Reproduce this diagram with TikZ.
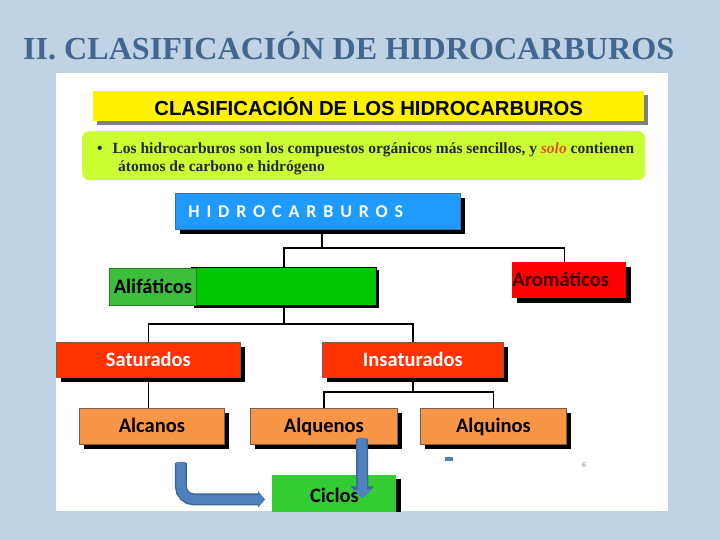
\documentclass[tikz,border=0pt]{standalone}
\usepackage{fontspec}
\setmainfont{Liberation Serif}
\newfontfamily\arialfont{Liberation Sans}
\newfontfamily\calfont{Carlito}
\usetikzlibrary{arrows.meta,shadows}

\definecolor{bgblue}{HTML}{BFD3E4}
\definecolor{titleblue}{HTML}{41668F}
\definecolor{limegreen}{HTML}{CCFF33}
\definecolor{hidroblue}{HTML}{1F9BFF}
\definecolor{hidroedge}{HTML}{3B6E9B}
\definecolor{alifbright}{HTML}{00C800}
\definecolor{aliflight}{HTML}{3DBE3D}
\definecolor{alifdark}{HTML}{2A7A2A}
\definecolor{aromred}{HTML}{FF0000}
\definecolor{aromtext}{HTML}{3A0000}
\definecolor{satred}{HTML}{FF3300}
\definecolor{boxedge}{HTML}{7B5B4B}
\definecolor{orangebox}{HTML}{F79646}
\definecolor{ciclosgreen}{HTML}{33CC33}
\definecolor{arrowblue}{HTML}{4F81BD}
\definecolor{arrowedge}{HTML}{3A6899}
\definecolor{solored}{HTML}{E6501E}
\definecolor{bulletblue}{HTML}{1F2A5A}

\tikzset{
  box/.style={anchor=north west, inner sep=0pt, draw=boxedge, line width=0.8pt,
    text height=15pt, text depth=2pt,
    font=\calfont\bfseries\fontsize{20.5}{24}\selectfont},
  blackshadow/.style={general shadow={fill=black, shadow xshift=5pt, shadow yshift=-5pt}},
  link/.style={draw=black, line width=1.7pt},
  outerarrow/.style={draw=arrowedge, line width=12pt, rounded corners=13pt},
  innerarrow/.style={draw=arrowblue, line width=9pt, rounded corners=13pt}
}

\begin{document}
\begin{tikzpicture}[x=1pt,y=-1pt]
\fill[bgblue] (0,0) rectangle (720,540);
\useasboundingbox (0,0) rectangle (720,540);

% slide title
\node[anchor=base west, inner sep=0pt, text=titleblue,
  font=\bfseries\fontsize{32.1}{36}\selectfont] (title) at (23,60) {II. CLASIFICACIÓN DE HIDROCARBUROS};

\begin{scope}
\clip (56,73) rectangle (668,511);
\fill[white] (56,73) rectangle (668,511);

% header bar and intro text
\node[anchor=north west, inner sep=0pt, fill=yellow, minimum width=551pt, minimum height=30pt,
  general shadow={fill=gray, shadow xshift=4pt, shadow yshift=-4pt},
  font=\arialfont\bfseries\fontsize{20.3}{24}\selectfont] (bar) at (93,91) {CLASIFICACIÓN DE LOS HIDROCARBUROS};
\node[anchor=north west, inner sep=0pt, fill=limegreen, rounded corners=7pt,
  minimum width=563pt, minimum height=49pt] (intro) at (82,131) {};
\node[anchor=north west, inner sep=0pt, align=left, text=black!85,
  font=\bfseries\fontsize{15.5}{17.5}\selectfont] (introtxt) at (97,143)
  {\textcolor{bulletblue}{\textbullet}\hspace{10pt}Los hidrocarburos son los compuestos orgánicos más sencillos, y \textcolor{solored}{\textit{solo}} contienen\\
   \hspace*{21pt}átomos de carbono e hidrógeno};

% tree of boxes
\node[box, blackshadow, draw=hidroedge, fill=hidroblue, text=white, text width=259pt, inner xsep=13pt,
  align=left, minimum height=36pt, font=\calfont\bfseries\fontsize{18}{22}\selectfont\addfontfeature{LetterSpace=38}]
  (hidro) at (175,193) {HIDROCARBUROS};

\node[box, general shadow={fill=black, shadow xshift=3pt, shadow yshift=-3pt}, draw=black, fill=alifbright,
  minimum width=185pt, minimum height=38pt] (alif) at (191,267) {};
\node[box, draw=alifdark, fill=aliflight, text=black, minimum width=87pt, minimum height=37pt] (aliftxt) at (109,268) {Alifáticos};
\node[box, blackshadow, draw=none, fill=aromred, text=aromtext, text width=114pt, align=left,
  minimum height=36pt] (arom) at (512,262) {Aromáticos};

\node[box, blackshadow, fill=satred, text=white, minimum width=184pt, minimum height=35pt] (sat) at (56,342) {Saturados};
\node[box, blackshadow, fill=satred, text=white, minimum width=181pt, minimum height=35pt] (insat) at (322,342) {Insaturados};

\node[box, blackshadow, fill=orangebox, minimum width=145pt, minimum height=36pt] (alc) at (79,408) {Alcanos};
\node[box, blackshadow, fill=orangebox, minimum width=147pt, minimum height=36pt] (alq) at (250,408) {Alquenos};
\node[box, blackshadow, fill=orangebox, minimum width=146pt, minimum height=36pt] (alqi) at (420,408) {Alquinos};

\node[box, draw=none, fill=ciclosgreen, general shadow={fill=black, shadow xshift=5pt, shadow yshift=-4pt},
  minimum width=124pt, minimum height=42pt] (ciclos) at (272,475) {Ciclos};

% connectors
\draw[link] ([xshift=4pt]hidro.south) -- ++(0,18) coordinate (hsplit);
\draw[link] (alif.north) |- (hsplit) -| ([xshift=-5pt]arom.north);
\draw[link] (alif.south) -- ++(0,18) coordinate (asplit);
\draw[link] (sat.north) |- (asplit) -| (insat.north);
\draw[link] (sat.south) -- (sat.south |- alc.north);
\draw[link] (insat.south) -- ++(0,14) coordinate (isplit);
\draw[link] (alq.north) |- (isplit) -| (alqi.north);

% block arrows to Ciclos
\coordinate (fromalc) at ([xshift=29pt,yshift=-18pt]alc.south);
\coordinate (fromalq) at ([xshift=38pt,yshift=6pt]alq.south);
\draw[outerarrow, -{Triangle[length=7pt,width=16pt]}] (fromalc) |- ([xshift=-7pt,yshift=-3pt]ciclos.west);
\draw[innerarrow, -{Triangle[length=5.5pt,width=13pt]}] ([yshift=1pt]fromalc) |- ([xshift=-8pt,yshift=-3pt]ciclos.west);
\draw[outerarrow, -{Triangle[length=11pt,width=23pt]}] (fromalq) -- ([xshift=28pt,yshift=-1pt]ciclos.center);
\draw[innerarrow, -{Triangle[length=9pt,width=19pt]}] ([yshift=1pt]fromalq) -- ([xshift=28pt,yshift=-2pt]ciclos.center);

% small marks
\fill[arrowblue] (445,457) rectangle (453,461);
\node[text=gray, font=\arialfont\fontsize{7}{8}\selectfont] (pagenum) at (584,465) {6};
\end{scope}
\end{tikzpicture}
\end{document}
